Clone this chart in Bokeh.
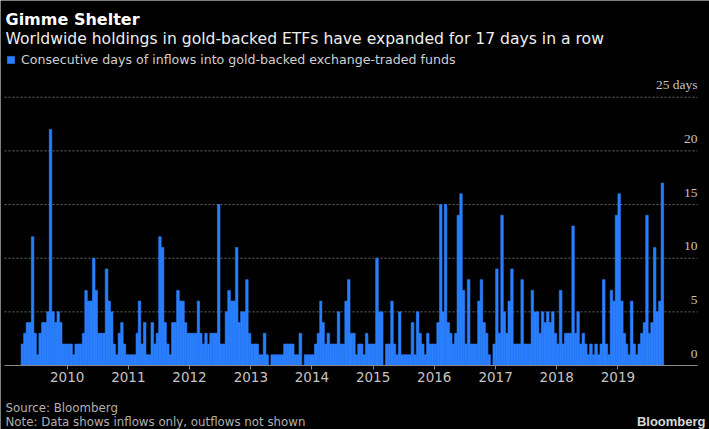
import pandas as pd
from bokeh.plotting import figure
from bokeh.models import (ColumnDataSource, Range1d, FixedTicker, DatetimeTickFormatter,
                          Grid, Label, LabelSet, Legend, LegendItem)
from bokeh.embed import file_html
from bokeh.resources import INLINE

# ---- data: consecutive days of inflows, read per half-month (1st & 16th) ----
years = [2009, 2010, 2011, 2012, 2013, 2014, 2015, 2016, 2017, 2018, 2019]
first_month = 4  # series starts April 2009
days_2009 = [2, 3, 4, 4, 12, 3, 1, 3, 4, 4, 5, 22, 5, 4, 5, 4, 2, 2]
days_2010 = [2, 2, 1, 2, 2, 2, 3, 7, 6, 6, 10, 7, 3, 3, 3, 9, 6, 5, 2, 1, 3, 4, 2, 1]
days_2011 = [1, 1, 1, 3, 6, 2, 4, 1, 1, 4, 2, 3, 12, 11, 4, 2, 1, 4, 4, 7, 6, 6, 4, 3]
days_2012 = [3, 3, 3, 6, 3, 2, 3, 2, 3, 3, 3, 15, 2, 2, 5, 7, 6, 6, 11, 4, 5, 5, 8, 3]
days_2013 = [2, 2, 2, 1, 1, 3, 1, 0, 1, 1, 1, 1, 1, 2, 2, 2, 2, 1, 1, 3, 0, 1, 1, 1]
days_2014 = [1, 2, 3, 6, 4, 2, 3, 2, 2, 2, 5, 2, 2, 6, 8, 3, 3, 1, 2, 2, 1, 3, 2, 2]
days_2015 = [2, 10, 5, 5, 0, 2, 2, 6, 2, 1, 5, 1, 1, 1, 1, 4, 1, 5, 3, 2, 1, 3, 2, 2]
days_2016 = [2, 4, 15, 5, 15, 4, 3, 2, 3, 14, 16, 7, 2, 8, 2, 2, 2, 6, 8, 4, 3, 1, 0, 2]
days_2017 = [9, 3, 14, 5, 3, 6, 9, 2, 2, 2, 8, 2, 2, 2, 7, 5, 5, 3, 5, 4, 5, 4, 5, 3]
days_2018 = [2, 7, 2, 3, 3, 3, 13, 3, 5, 2, 3, 2, 1, 2, 1, 2, 1, 2, 8, 2, 1, 7, 6, 14]
days_2019 = [16, 6, 3, 2, 1, 6, 2, 1, 2, 3, 4, 14, 3, 4, 11, 5, 6, 17]
series = [days_2009, days_2010, days_2011, days_2012, days_2013, days_2014,
          days_2015, days_2016, days_2017, days_2018, days_2019]

tick_years = [2010, 2011, 2012, 2013, 2014, 2015, 2016, 2017, 2018, 2019]
y_ticks = [0, 5, 10, 15, 20, 25]
y_tick_labels = ["0", "5", "10", "15", "20", "25 days"]

title_text = "Gimme Shelter"
subtitle_text = "Worldwide holdings in gold-backed ETFs have expanded for 17 days in a row"
legend_text = "Consecutive days of inflows into gold-backed exchange-traded funds"
source_text = "Source: Bloomberg"
note_text = "Note: Data shows inflows only, outflows not shown"

# ---- build half-month bins ----
starts, vals = [], []
for yr, vs in zip(years, series):
    m0 = first_month if yr == years[0] else 1
    for k, v in enumerate(vs):
        starts.append(pd.Timestamp(year=yr, month=m0 + k // 2, day=1 if k % 2 == 0 else 16))
        vals.append(v)
ends = starts[1:] + [starts[-1] + pd.Timedelta(days=15)]
src = ColumnDataSource(dict(left=starts, right=ends, top=vals, bottom=[0] * len(vals)))

BLUE = "#2a7fff"
W, H = 709, 429

# ---- layout calibration (pixels of the canvas) ----
X2010, X2019 = 66.7, 617.4      # where the 2010 / 2019 ticks sit
ZERO_PX, PX_PER_DAY = 365.0, 10.73
PLOT_L, PLOT_R = 4, 697

t2010 = pd.Timestamp("2010-01-01")
t2019 = pd.Timestamp("2019-01-01")
per_px = (t2019 - t2010) / (X2019 - X2010)
def x_at(px):
    return t2010 + per_px * (px - X2010)

p = figure(width=W, height=H, output_backend="svg", toolbar_location=None, title=None,
           x_axis_type="datetime", y_axis_location=None,
           x_range=Range1d(x_at(0), x_at(W)),
           y_range=Range1d(-(H - ZERO_PX) / PX_PER_DAY, ZERO_PX / PX_PER_DAY),
           min_border_left=0, min_border_right=0, min_border_top=0, min_border_bottom=0,
           background_fill_color="black", border_fill_color="black", outline_line_color=None)

p.center = [c for c in p.center if not isinstance(c, Grid)]

# dotted horizontal gridlines (5..25) spanning the plot width
grid_src = ColumnDataSource(dict(x0=[x_at(PLOT_L)] * (len(y_ticks) - 1),
                                 x1=[x_at(PLOT_R)] * (len(y_ticks) - 1),
                                 y=y_ticks[1:]))
p.segment(x0="x0", x1="x1", y0="y", y1="y", source=grid_src,
          line_color="#6a6a6a", line_dash="2 2", line_width=1)

bars = p.quad(left="left", right="right", top="top", bottom="bottom", source=src,
              fill_color=BLUE, line_color=BLUE, line_width=0.6)

ax = p.xaxis[0]
ax.fixed_location = 0
ax.bounds = (x_at(PLOT_L), x_at(PLOT_R))
ax.ticker = FixedTicker(ticks=[pd.Timestamp(f"{y}-01-01").timestamp() * 1000 for y in tick_years])
ax.formatter = DatetimeTickFormatter(years="%Y", months="%Y", days="%Y")
ax.axis_line_color = "#8a8a8a"
ax.major_tick_line_color = "#8a8a8a"
ax.major_tick_out = 4
ax.major_tick_in = 0
ax.minor_tick_line_color = None
ax.major_label_standoff = 2
ax.major_label_text_font = "DejaVu Sans"
ax.major_label_text_font_size = "13.5px"
ax.major_label_text_color = "#c4c4c4"

# y labels, right aligned just above each gridline
ysrc = ColumnDataSource(dict(x=[PLOT_R] * len(y_ticks),
                             y=[t + 8 / PX_PER_DAY for t in y_ticks],
                             t=y_tick_labels))
p.add_layout(LabelSet(x="x", y="y", text="t", source=ysrc, x_units="screen", y_units="data",
                      text_align="right", text_baseline="alphabetic",
                      text_font="DejaVu Sans", text_font_size="13.5px", text_color="#c4c4c4"))

def add_text(txt, x, baseline_px, size, color, bold=False, align="left", font="DejaVu Sans"):
    p.add_layout(Label(x=x, y=H - baseline_px, x_units="screen", y_units="screen", text=txt,
                       text_font=font, text_font_size=size, text_color=color,
                       text_font_style="bold" if bold else "normal",
                       text_align=align, text_baseline="alphabetic"))

add_text(title_text, 5, 18.5, "16px", "#ffffff", bold=True)
add_text(subtitle_text, 5, 38.5, "15.6px", "#eeeeee")
add_text(source_text, 5, 407, "11.8px", "#b0b0b0")
add_text(note_text, 5, 421, "11.8px", "#b0b0b0")
add_text("Bloomberg", 705, 420.5, "13px", "#d8d8d8", bold=True, align="right",
         font="Liberation Sans")

legend = Legend(items=[LegendItem(label=legend_text, renderers=[bars])],
                location=(6, H - 67), orientation="horizontal",
                padding=0, margin=0, spacing=0, glyph_width=9, glyph_height=9,
                label_standoff=6, label_height=9, label_text_font="DejaVu Sans",
                label_text_font_size="12.6px", label_text_color="#d0d0d0",
                border_line_color=None, background_fill_alpha=0)
p.add_layout(legend, "center")

open("out.html", "w").write(file_html(p, INLINE))
